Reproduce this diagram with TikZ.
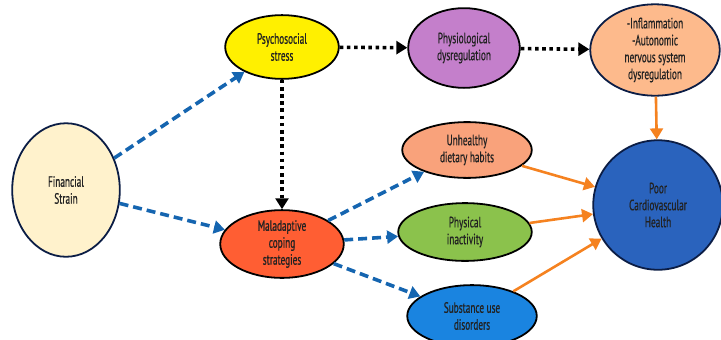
\documentclass[tikz,border=0pt]{standalone}
\usepackage{fontspec}
\setmainfont{PT Sans}[FakeStretch=0.62, FakeBold=0.6]
\usetikzlibrary{arrows.meta, shapes.geometric}

\definecolor{cream}{HTML}{FFF2CC}
\definecolor{navy}{HTML}{0B1D45}
\definecolor{sunny}{HTML}{FFF000}
\definecolor{lilac}{HTML}{C47FCB}
\definecolor{peach}{HTML}{FDBA8C}
\definecolor{salmon}{HTML}{F9A27B}
\definecolor{leaf}{HTML}{8BC24C}
\definecolor{sky}{HTML}{1A84E0}
\definecolor{tomato}{HTML}{FF5E33}
\definecolor{heart}{HTML}{2A63BD}
\definecolor{dashblue}{HTML}{1565B0}
\definecolor{tangerine}{HTML}{F58220}
\definecolor{ink}{HTML}{222222}

\tikzset{
  bubble/.style={ellipse, draw, line width=1.8pt, inner sep=0pt, align=center,
    text=ink, font=\fontsize{15}{17}\selectfont},
  pathway/.style={-{Triangle[length=11pt,width=13pt]}, dashblue, line width=3.6pt,
    dash pattern=on 9pt off 5pt},
  stressline/.style={-{Triangle[length=11pt,width=13pt]}, black, line width=3.6pt,
    dash pattern=on 3.6pt off 3.6pt},
  outcome/.style={-{Triangle[length=11pt,width=13pt]}, tangerine, line width=2.6pt}
}

\begin{document}
\begin{tikzpicture}[x=1bp, y=-1bp]
  \useasboundingbox (0,0) rectangle (721,339);
  \begin{scope}
  \clip (0,0) rectangle (721,339);

  % Draw the nodes
  \node[bubble, draw=navy, fill=cream, minimum width=108, minimum height=134]
    (strain) at (66,190) {Financial\\Strain};
  \node[bubble, fill=sunny, minimum width=114, minimum height=64]
    (stress) at (282,47) {Psychosocial\\stress};
  \node[bubble, fill=lilac, minimum width=112, minimum height=80]
    (physio) at (464,48) {Physiological\\dysregulation};
  \node[bubble, draw=navy, fill=peach, minimum width=130, minimum height=88]
    (inflam) at (655,50) {-Inflammation\\-Autonomic\\nervous system\\dysregulation};
  \node[bubble, fill=tomato, minimum width=124, minimum height=68]
    (coping) at (282,244) {Maladaptive\\coping\\strategies};
  \node[bubble, fill=salmon, minimum width=130, minimum height=56]
    (diet) at (467,150) {Unhealthy\\dietary habits};
  \node[bubble, fill=leaf, minimum width=134, minimum height=58]
    (inactive) at (465,232) {Physical\\inactivity};
  \node[bubble, fill=sky, minimum width=130, minimum height=62]
    (substance) at (472,316) {Substance use\\disorders};
  \node[bubble, circle, draw=navy, fill=heart, minimum size=130]
    (health) at (658,205) {Poor\\Cardiovascular\\Health};

  % Draw the blue dashed pathways
  \draw[pathway] (strain) -- (stress);
  \draw[pathway] (strain) -- (coping);
  \draw[pathway] (coping) -- (diet);
  \draw[pathway] (coping) -- (inactive);
  \draw[pathway] (coping) -- (substance);

  % Draw the dotted stress pathways
  \draw[stressline] (stress) -- (physio);
  \draw[stressline] (physio) -- (inflam);
  \draw[stressline] (stress) -- (coping);

  % Draw the orange arrows into the outcome
  \draw[outcome] (inflam) -- (health);
  \draw[outcome] (diet) -- (health);
  \draw[outcome] (inactive) -- (health);
  \draw[outcome] (substance) -- (health);
  \end{scope}
\end{tikzpicture}
\end{document}
